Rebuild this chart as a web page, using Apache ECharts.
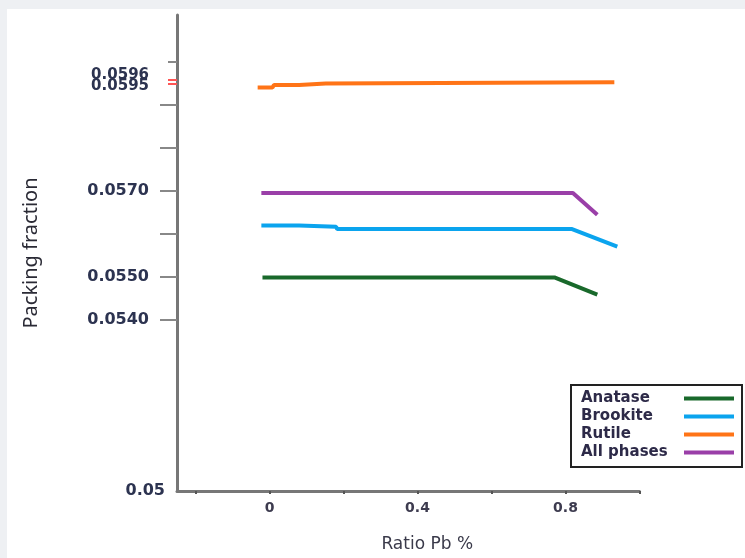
<!DOCTYPE html>
<html>
<head>
<meta charset="utf-8">
<script src="https://cdn.jsdelivr.net/npm/echarts@6/dist/echarts.min.js"></script>
<style>
html,body{margin:0;padding:0;background:#eef0f3;}
#chart{width:745px;height:558px;}
</style>
</head>
<body>
<div id="chart"></div>
<script>
// ---- data ----
const seriesNames = ['Anatase', 'Brookite', 'Rutile', 'All phases'];
const anataseX = [-0.019, 0.77, 0.886];
const anataseY = [0.05498, 0.05498, 0.05458];
const brookiteX = [-0.022, 0.08, 0.083, 0.18, 0.183, 0.816, 0.94];
const brookiteY = [0.05619, 0.05619, 0.05616, 0.05616, 0.05611, 0.05611, 0.05570];
const rutileX = [-0.032, 0.008, 0.012, 0.08, 0.085, 0.152, 0.156, 0.932];
const rutileY = [0.05941, 0.05941, 0.05947, 0.05947, 0.05950, 0.05950, 0.05953, 0.05953];
const allX = [-0.022, 0.82, 0.886];
const allY = [0.05695, 0.05695, 0.05644];
const xTickValues = [-0.2, 0, 0.2, 0.4, 0.6, 0.8, 1.0];
const xLabelValues = [0, 0.4, 0.8];
const yTickValues = [0.054, 0.055, 0.056, 0.057, 0.058, 0.059];
const yLabelValues = [0.054, 0.055, 0.057, 0.0595];
const yTopTick = [0.060];
const yBottomLabel = [0.05];
const yRedTicks = [0.0595, 0.0596];
const yRedLabel = [0.0596];

function pairs(xs, ys) { return xs.map((x, i) => [x, ys[i]]); }

const colors = ['#19692b', '#0ba4ee', '#ff7417', '#9a3fa8'];
const data = [pairs(anataseX, anataseY), pairs(brookiteX, brookiteY), pairs(rutileX, rutileY), pairs(allX, allY)];

const chart = echarts.init(document.getElementById('chart'), null, {renderer: 'canvas'});
const yBase = {
  type: 'value', min: 0.05, max: 0.0611, position: 'left',
  splitLine: {show: false}
};
const labelStyle = {fontFamily: 'DejaVu Sans', fontSize: 16, fontWeight: 'bold', color: '#2c3350', hideOverlap: false};
const smallRich = {
  u: {padding: [0, 0, 9, 0], fontFamily: 'DejaVu Sans', fontWeight: 'bold', fontSize: 15, color: '#2c3350'},
  d: {padding: [5, 0, 0, 0], fontFamily: 'DejaVu Sans', fontWeight: 'bold', fontSize: 15, color: '#2c3350'}
};
chart.setOption({
  backgroundColor: '#eef0f3',
  animation: false,
  graphic: [{type: 'rect', left: 7, top: 9, shape: {width: 738, height: 549}, style: {fill: '#ffffff'}, z: -100}],
  grid: {left: 177, top: 15, width: 462.5, height: 477},
  legend: {
    orient: 'vertical', right: 3, top: 385,
    borderColor: '#222', borderWidth: 2,
    padding: [6, 8, 7, 10], itemGap: 3,
    itemWidth: 50, itemHeight: 4, icon: 'rect', align: 'right',
    data: seriesNames,
    formatter: n => '{n|' + n + '}',
    textStyle: {fontFamily: 'DejaVu Sans', fontSize: 15, fontWeight: 'bold', color: '#2d2a48',
      rich: {n: {width: 98, align: 'left', lineHeight: 16, fontFamily: 'DejaVu Sans', fontWeight: 'bold', fontSize: 15, color: '#2d2a48'}}}
  },
  xAxis: {
    type: 'value', min: -0.25, max: 1.0,
    name: 'Ratio Pb %', nameLocation: 'middle', nameGap: 45,
    nameTextStyle: {fontFamily: 'DejaVu Sans', fontSize: 17, color: '#3a3a4a', padding: [0, 0, 0, 38]},
    axisLine: {onZero: false, lineStyle: {color: '#777', width: 3}},
    axisTick: {customValues: xTickValues, length: 3, lineStyle: {color: '#555', width: 2}},
    axisLabel: Object.assign({}, labelStyle, {customValues: xLabelValues, margin: 10, fontSize: 14, color: '#3d3b4f', formatter: v => String(v)}),
    splitLine: {show: false}
  },
  yAxis: [
    Object.assign({}, yBase, {
      name: 'Packing fraction', nameLocation: 'middle', nameGap: 136, nameRotate: 90,
      nameTextStyle: {fontFamily: 'Noto Sans', fontSize: 20, color: '#2a2a35'},
      axisLine: {show: true, onZero: false, lineStyle: {color: '#777', width: 3}},
      axisTick: {show: true, customValues: yTickValues, length: 17, lineStyle: {color: '#888', width: 2}},
      axisLabel: Object.assign({}, labelStyle, {
        customValues: yLabelValues, margin: 28,
        formatter: v => (Math.abs(v - 0.0595) < 1e-7 ? '{d|0.0595}' : v.toFixed(4)),
        rich: smallRich
      })
    }),
    Object.assign({}, yBase, {
      axisLine: {show: false, onZero: false},
      axisTick: {show: true, customValues: yTopTick, length: 9, lineStyle: {color: '#888', width: 2}},
      axisLabel: Object.assign({}, labelStyle, {customValues: yBottomLabel, margin: 12, formatter: v => '0.05'})
    }),
    Object.assign({}, yBase, {
      axisLine: {show: false, onZero: false},
      axisTick: {show: true, customValues: yRedTicks, length: 9, lineStyle: {color: '#ff5555', width: 2}},
      axisLabel: Object.assign({}, labelStyle, {customValues: yRedLabel, margin: 28, formatter: v => '{u|0.0596}', rich: smallRich})
    })
  ],
  series: seriesNames.map((n, i) => ({
    name: n, type: 'line', data: data[i], showSymbol: false, symbol: 'none',
    color: colors[i], lineStyle: {color: colors[i], width: 4}, z: 3
  }))
});
</script>
</body>
</html>
